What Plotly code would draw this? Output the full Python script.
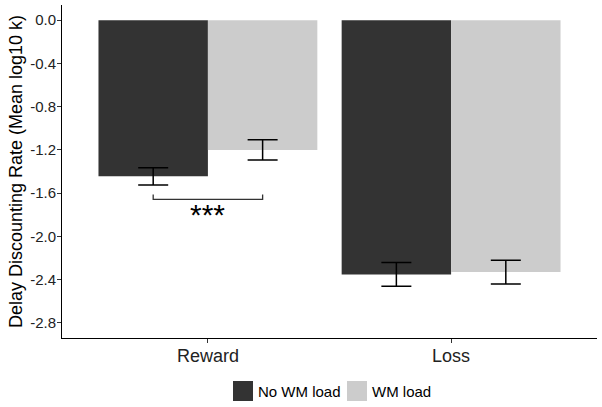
import plotly.graph_objects as go

categories = ["Reward", "Loss"]
series_names = ["No WM load", "WM load"]
no_wm_values = [-1.445, -2.352]
wm_values = [-1.20, -2.330]
no_wm_err = [0.08, 0.11]
wm_err = [0.093, 0.11]
colors = ["#333333", "#CCCCCC"]
y_ticks = [0.0, -0.4, -0.8, -1.2, -1.6, -2.0, -2.4, -2.8]
y_tick_text = ["0.0", "-0.4", "-0.8", "-1.2", "-1.6", "-2.0", "-2.4", "-2.8"]
sig_label = "***"
sig_y = -1.657

font_family = "Liberation Sans, Arial, sans-serif"

fig = go.Figure()
for name, vals, errs, col in zip(series_names, [no_wm_values, wm_values], [no_wm_err, wm_err], colors):
    fig.add_trace(go.Bar(
        x=categories, y=vals, name=name, marker=dict(color=col, line=dict(width=0)),
        error_y=dict(type="data", array=errs, color="black", thickness=1.5, width=15),
        showlegend=False, hoverinfo="skip",
    ))

# significance bracket (Reward category at index 0)
fig.add_shape(type="path", xref="x", yref="y",
              path=f"M -0.225 {sig_y+0.045} L -0.225 {sig_y} L 0.225 {sig_y} L 0.225 {sig_y+0.045}",
              line=dict(color="#333", width=1.3))
fig.add_annotation(x=0.0, y=-1.80, xref="x", yref="y", text=sig_label, showarrow=False,
                   yanchor="middle", font=dict(size=30, family=font_family, color="black"))

# manual legend
items = [(233, series_names[0], colors[0]), (347, series_names[1], colors[1])]
W, H = 602, 407
for x0, name, col in items:
    fig.add_shape(type="rect", xref="paper", yref="paper",
                  x0=(x0 - 62) / 535, x1=(x0 + 20 - 62) / 535,
                  y0=(338 - 401) / 333, y1=(338 - 381) / 333,
                  fillcolor=col, line=dict(width=0))
    fig.add_annotation(xref="paper", yref="paper", x=(x0 + 23 - 62) / 535, y=(338 - 391) / 333,
                       text=name, showarrow=False, xanchor="left", yanchor="middle",
                       font=dict(size=15, family=font_family, color="black"))

fig.update_layout(
    width=W, height=H,
    margin=dict(l=62, r=5, t=5, b=69),
    paper_bgcolor="white", plot_bgcolor="white",
    barmode="group", bargap=0.1, bargroupgap=0,
    font=dict(family=font_family, color="black"),
)
fig.update_xaxes(range=[-0.6, 1.6], showline=True, linecolor="black", linewidth=1,
                 ticks="outside", ticklen=4, tickcolor="#333", ticklabelstandoff=-3,
                 tickfont=dict(size=18, color="#222"), showgrid=False, zeroline=False)
fig.update_yaxes(range=[-2.94, 0.14], tickvals=y_ticks, ticktext=y_tick_text,
                 showline=True, linecolor="black", linewidth=1,
                 ticks="outside", ticklen=4, tickcolor="#333", ticklabelstandoff=-2,
                 tickfont=dict(size=15, color="#222"), showgrid=False, zeroline=False,
                 title=dict(text="Delay Discounting Rate (Mean log10 k)", font=dict(size=18), standoff=2))

fig.write_html("out.html", config={"displayModeBar": False},
               post_script="document.body.style.margin='0';document.body.style.overflow='hidden';")
